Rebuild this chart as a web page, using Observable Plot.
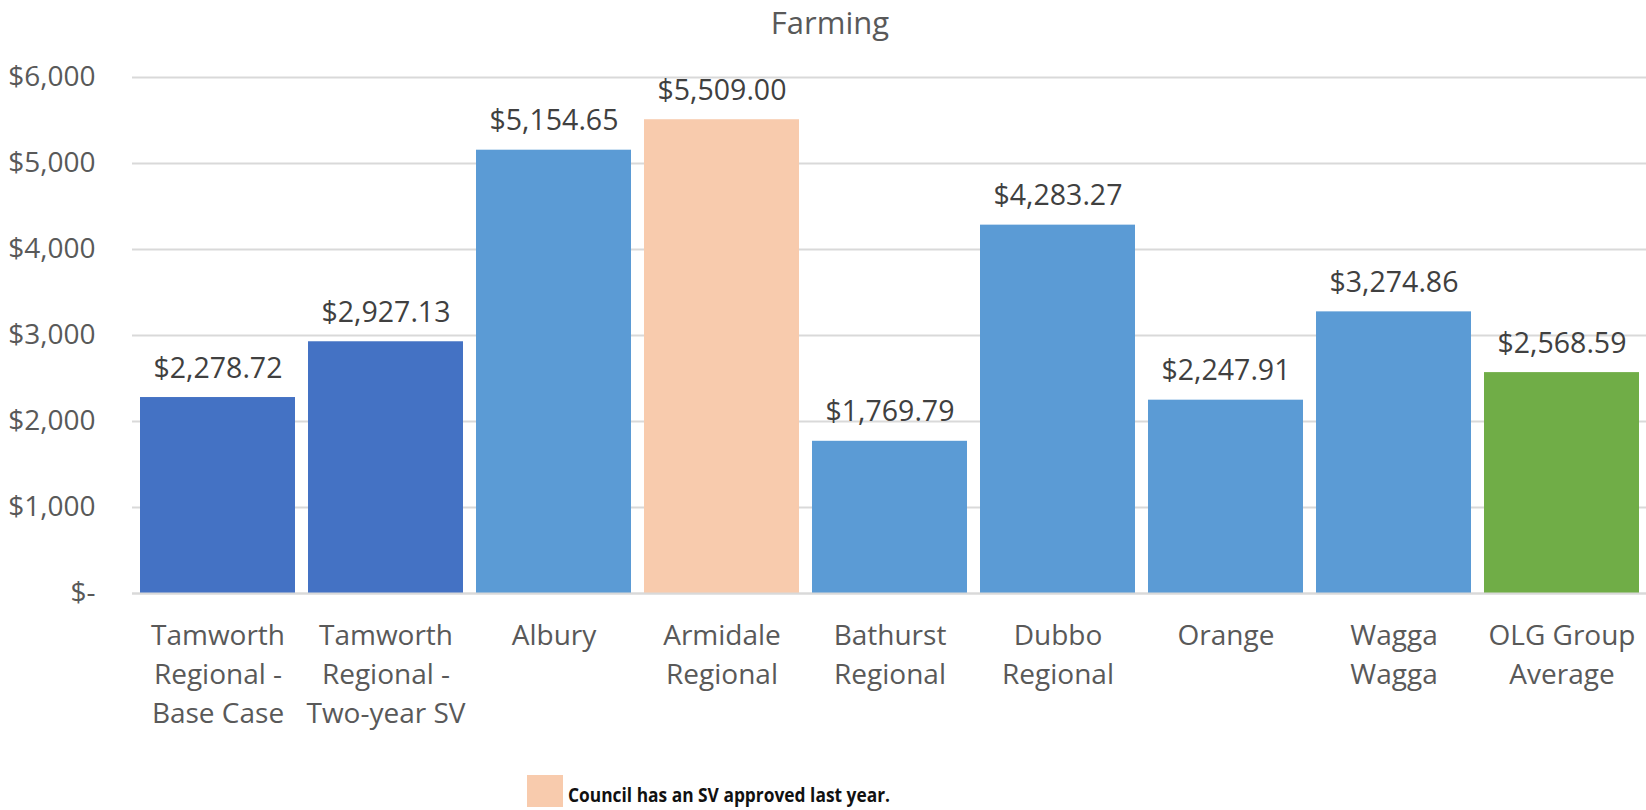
<!DOCTYPE html>
<html>
<head>
<meta charset="utf-8">
<script src="https://cdn.jsdelivr.net/npm/d3@7"></script>
<script src="https://cdn.jsdelivr.net/npm/@observablehq/plot@0.6"></script>
<style>
  body { margin: 0; background: #fff; font-family: "Open Sans", sans-serif; position: relative; width: 1646px; height: 810px; overflow: hidden; }
  #title { height: 50px; box-sizing: border-box; padding-top: 1px; line-height: 42px; text-align: center; font-size: 31px; color: #595959; width: 1646px; padding-left: 14px; }
  #chart { height: 700px; }
  #legend { position: absolute; left: 527px; top: 775px; height: 32px; }
</style>
</head>
<body>
<div id="title">Farming</div>
<div id="chart"></div>
<div id="legend"></div>
<script>
const categories = [
  "Tamworth Regional - Base Case",
  "Tamworth Regional - Two-year SV",
  "Albury",
  "Armidale Regional",
  "Bathurst Regional",
  "Dubbo Regional",
  "Orange",
  "Wagga Wagga",
  "OLG Group Average"
];
const tickLabels = [
  "Tamworth\nRegional -\nBase Case",
  "Tamworth\nRegional -\nTwo-year SV",
  "Albury",
  "Armidale\nRegional",
  "Bathurst\nRegional",
  "Dubbo\nRegional",
  "Orange",
  "Wagga\nWagga",
  "OLG Group\nAverage"
];
const values = [2278.72, 2927.13, 5154.65, 5509.00, 1769.79, 4283.27, 2247.91, 3274.86, 2568.59];
const groups = ["Tamworth", "Tamworth", "Peer", "SV approved", "Peer", "Peer", "Peer", "Peer", "Average"];
const yTicks = [0, 1000, 2000, 3000, 4000, 5000, 6000];
const legendLabel = "Council has an SV approved last year.";

const data = categories.map((c, i) => ({name: c, value: values[i], group: groups[i], label: tickLabels[i]}));
const labelOf = new Map(data.map(d => [d.name, d.label]));
const money = d3.format(",.2f");
const yFmt = d => d === 0 ? "$-" : "$" + d3.format(",")(d);

const chart = Plot.plot({
  width: 1646,
  height: 700,
  marginLeft: 132,
  marginRight: 0,
  marginTop: 27,
  marginBottom: 157,
  style: {fontFamily: "'Open Sans', sans-serif", color: "#595959", background: "#fff"},
  x: {domain: categories, paddingInner: 0.08, paddingOuter: 0.04},
  y: {domain: [0, 6000]},
  color: {
    domain: ["Tamworth", "Peer", "SV approved", "Average"],
    range: ["#4472C4", "#5B9BD5", "#F8CBAD", "#70AD47"]
  },
  marks: [
    Plot.gridY(yTicks, {stroke: "#D9D9D9", strokeOpacity: 1, strokeWidth: 2}),
    Plot.barY(data, {x: "name", y: "value", fill: "group"}),
    Plot.ruleY([0], {stroke: "#D9D9D9", strokeWidth: 2}),
    Plot.axisY({ticks: yTicks, tickFormat: yFmt, tickSize: 0, tickPadding: 37, fontSize: 28, label: null, fill: "#595959"}),
    Plot.axisX({tickSize: 0, tickPadding: 23, fontSize: 28, lineHeight: 1.41, label: null, tickFormat: d => labelOf.get(d), fill: "#595959"}),
    Plot.text(data, {x: "name", y: "value", text: d => "$" + money(d.value), dy: -20, lineAnchor: "bottom", fontSize: 28.5, fill: "#404040"})
  ]
});
document.getElementById("chart").appendChild(chart);

// legend
const ns = "http://www.w3.org/2000/svg";
const lg = document.createElementNS(ns, "svg");
lg.setAttribute("width", "420");
lg.setAttribute("height", "35");
const sw = document.createElementNS(ns, "rect");
sw.setAttribute("x", 0); sw.setAttribute("y", 0);
sw.setAttribute("width", 36); sw.setAttribute("height", 32);
sw.setAttribute("fill", "#F8CBAD");
lg.appendChild(sw);
const tx = document.createElementNS(ns, "text");
tx.setAttribute("x", 41); tx.setAttribute("y", 27);
tx.setAttribute("font-family", "'Open Sans', sans-serif");
tx.setAttribute("font-weight", "bold");
tx.setAttribute("font-size", "19");
tx.setAttribute("fill", "#111");
tx.setAttribute("textLength", "322");
tx.setAttribute("lengthAdjust", "spacingAndGlyphs");
tx.textContent = legendLabel;
lg.appendChild(tx);
document.getElementById("legend").appendChild(lg);
</script>
</body>
</html>
